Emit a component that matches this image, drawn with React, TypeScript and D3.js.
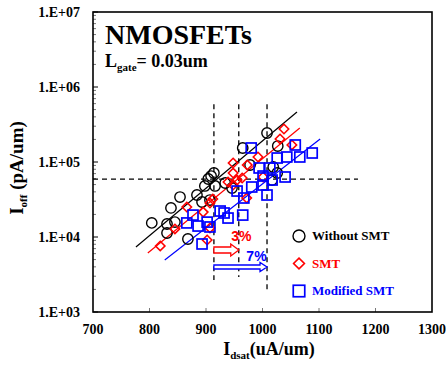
import React from "react";
import * as d3 from "d3";

const withoutSMT: [number, number][] = [
  [804, 15400], [831, 14900], [845, 15800], [831, 11300], [838, 24400], [854, 34100],
  [884, 36300], [868, 9400], [893, 29300], [907, 31100], [898, 47900], [904, 59300],
  [914, 71300], [909, 65000], [916, 47900], [934, 52500], [946, 45000], [965, 153800],
  [978, 91200], [1008, 243700], [1027, 163300], [1019, 85800], [1026, 71300], [1017, 57500],
];
const smt: [number, number][] = [
  [819, 7590], [845, 12800], [866, 25100], [902, 9120], [895, 21500], [907, 28400],
  [912, 32100], [939, 54100], [948, 71300], [955, 57500], [964, 61200], [948, 97000],
  [973, 91200], [992, 116600], [972, 33100], [1031, 202700], [1038, 275400], [1052, 168600],
  [1001, 63100], [948, 49300], [907, 13200],
];
const modifiedSMT: [number, number][] = [
  [893, 8070], [866, 15400], [877, 19600], [886, 14000], [902, 15800], [907, 13600],
  [925, 22200], [932, 20900], [939, 17900], [965, 19600], [955, 41000], [967, 33100],
  [981, 46400], [1001, 49300], [1008, 36300], [1017, 57500], [1040, 63100], [1001, 65000],
  [994, 83200], [980, 153800], [1026, 113000], [1043, 116600], [1066, 116600], [1058, 168600],
  [1088, 131800], [1013, 83200],
];
const fitBlack: [number, number][] = [[776, 7360], [1061, 464000]];
const fitRed: [number, number][] = [[797, 6120], [1066, 284000]];
const fitBlue: [number, number][] = [[827, 4940], [1102, 203000]];

const xTicks = [700, 800, 900, 1000, 1100, 1200, 1300];
const yTicks = [1e3, 1e4, 1e5, 1e6, 1e7];
const yTickLabels = ["1.E+03", "1.E+04", "1.E+05", "1.E+06", "1.E+07"];

// reference dashed lines: [x, yTop, yBottom]
const vRefs: [number, number, number][] = [[914, 590000, 2670], [958, 590000, 2930], [1008, 590000, 1830]];
const hRef: [number, number, number] = [59000, 700, 1169];
// arrows: [xFrom, xTo, y]
const redArrow: [number, number, number] = [914, 958, 6710];
const blueArrow: [number, number, number] = [914, 1008, 3980];

const legendItems = [
  { label: "Without SMT", color: "#000000", shape: "circle" },
  { label: "SMT", color: "#ff0000", shape: "diamond" },
  { label: "Modified SMT", color: "#0000ff", shape: "square" },
];

const W = 446, H = 370;
const L = 93, T = 12, R = 432, B = 312;
const serif = "'Liberation Serif', 'Times New Roman', serif";
const sans = "'Liberation Sans', Arial, sans-serif";

function Marker({ shape, cx, cy, color, s = 1 }: { shape: string; cx: number; cy: number; color: string; s?: number }) {
  if (shape === "circle") return <circle cx={cx} cy={cy} r={5.2 * s} fill="none" stroke={color} strokeWidth={1.4} />;
  if (shape === "square") {
    const h = 5 * s;
    return <rect x={cx - h} y={cy - h} width={2 * h} height={2 * h} fill="none" stroke={color} strokeWidth={1.7} />;
  }
  const d = 4.7 * s;
  return <path d={`M${cx},${cy - d}L${cx + d},${cy}L${cx},${cy + d}L${cx - d},${cy}Z`} fill="none" stroke={color} strokeWidth={1.6} />;
}

export default function App() {
  const x = d3.scaleLinear().domain([700, 1300]).range([L, R]);
  const y = d3.scaleLog().domain([1e3, 1e7]).range([B, T]);
  const line = d3.line<[number, number]>().x((d) => x(d[0])).y((d) => y(d[1]));

  const minorY: number[] = [];
  for (let e = 3; e < 7; e++) for (let m = 2; m <= 9; m++) minorY.push(m * Math.pow(10, e));

  const arrow = (a: [number, number, number], color: string, bodyH: number, headH: number, headW: number) => {
    const x0 = x(a[0]), x1 = x(a[1]), yc = y(a[2]);
    const xb = x1 - headW;
    const d = `M${x0},${yc - bodyH / 2}L${xb},${yc - bodyH / 2}L${xb},${yc - headH / 2}L${x1},${yc}L${xb},${yc + headH / 2}L${xb},${yc + bodyH / 2}L${x0},${yc + bodyH / 2}Z`;
    return <path d={d} fill="white" stroke={color} strokeWidth={1.3} />;
  };

  return (
    <svg width={W} height={H} style={{ position: "absolute", left: 0, top: 0, background: "white" }}>
      <rect x={0} y={0} width={W} height={H} fill="white" />
      {yTicks.map((t) => (
        <line key={"yt" + t} x1={L} x2={L + 5} y1={y(t)} y2={y(t)} stroke="#000" strokeWidth={1} />
      ))}
      {minorY.map((t) => (
        <line key={"ym" + t} x1={L} x2={L + 3} y1={y(t)} y2={y(t)} stroke="#555" strokeWidth={0.8} />
      ))}
      {xTicks.slice(1, -1).map((t) => (
        <line key={"xt" + t} x1={x(t)} x2={x(t)} y1={B} y2={B - 4} stroke="#555" strokeWidth={0.8} />
      ))}
      {vRefs.map((v) => (
        <line key={"v" + v[0]} x1={x(v[0])} x2={x(v[0])} y1={y(v[1])} y2={y(v[2])} stroke="#000" strokeWidth={1.3} strokeDasharray="5,4" />
      ))}
      <line x1={x(hRef[1])} x2={x(hRef[2])} y1={y(hRef[0])} y2={y(hRef[0])} stroke="#000" strokeWidth={1.3} strokeDasharray="5,4" />
      <path d={line(fitBlack) || ""} stroke="#000" strokeWidth={1.2} fill="none" />
      <path d={line(fitRed) || ""} stroke="#ff0000" strokeWidth={1.2} fill="none" />
      <path d={line(fitBlue) || ""} stroke="#0000ff" strokeWidth={1.2} fill="none" />
      {withoutSMT.map((p, i) => (
        <Marker key={"b" + i} shape="circle" cx={x(p[0])} cy={y(p[1])} color="#000" />
      ))}
      {smt.map((p, i) => (
        <Marker key={"r" + i} shape="diamond" cx={x(p[0])} cy={y(p[1])} color="#ff0000" />
      ))}
      {modifiedSMT.map((p, i) => (
        <Marker key={"m" + i} shape="square" cx={x(p[0])} cy={y(p[1])} color="#0000ff" />
      ))}
      {arrow(redArrow, "#ff0000", 6, 12, 8)}
      {arrow(blueArrow, "#0000ff", 4, 9, 7)}
      <text x={(x(redArrow[0]) + x(redArrow[1])) / 2 + 15} y={y(redArrow[2]) - 9} fill="#ff0000" fontFamily={sans} fontWeight="bold" fontSize={14} textAnchor="middle">3%</text>
      <text x={(x(blueArrow[0]) + x(blueArrow[1])) / 2 + 16} y={y(blueArrow[2]) - 6} fill="#0000ff" fontFamily={sans} fontWeight="bold" fontSize={14} textAnchor="middle">7%</text>
      {legendItems.map((it, i) => (
        <g key={it.label}>
          <Marker shape={it.shape} cx={299} cy={236 + i * 27.5} color={it.color} s={1.15} />
          <text x={312} y={240 + i * 27.5} fontFamily={serif} fontWeight="bold" fontSize={13} fill={it.color}>{it.label}</text>
        </g>
      ))}
      <rect x={L} y={T} width={R - L} height={B - T} fill="none" stroke="#000" strokeWidth={1.6} />
      <text x={105} y={44} fontFamily={serif} fontWeight="bold" fontSize={28}>NMOSFETs</text>
      <text x={105} y={67} fontFamily={serif} fontWeight="bold" fontSize={18}>
        L<tspan fontSize={11} dy={4}>gate</tspan><tspan dy={-4}>= 0.03um</tspan>
      </text>
      {yTicks.map((t, i) => (
        <text key={"yl" + t} x={80} y={y(t) + 5} textAnchor="end" fontFamily={serif} fontWeight="bold" fontSize={14}>{yTickLabels[i]}</text>
      ))}
      {xTicks.map((t) => (
        <text key={"xl" + t} x={x(t)} y={334} textAnchor="middle" fontFamily={serif} fontWeight="bold" fontSize={14}>{t}</text>
      ))}
      <text x={269} y={355} textAnchor="middle" fontFamily={serif} fontWeight="bold" fontSize={18}>
        I<tspan fontSize={11} dy={4}>dsat</tspan><tspan dy={-4}>(uA/um)</tspan>
      </text>
      <text transform="translate(23,168) rotate(-90)" textAnchor="middle" fontFamily={serif} fontWeight="bold" fontSize={19}>
        I<tspan fontSize={11} dy={4}>off</tspan><tspan dy={-4}> (pA/um)</tspan>
      </text>
    </svg>
  );
}
